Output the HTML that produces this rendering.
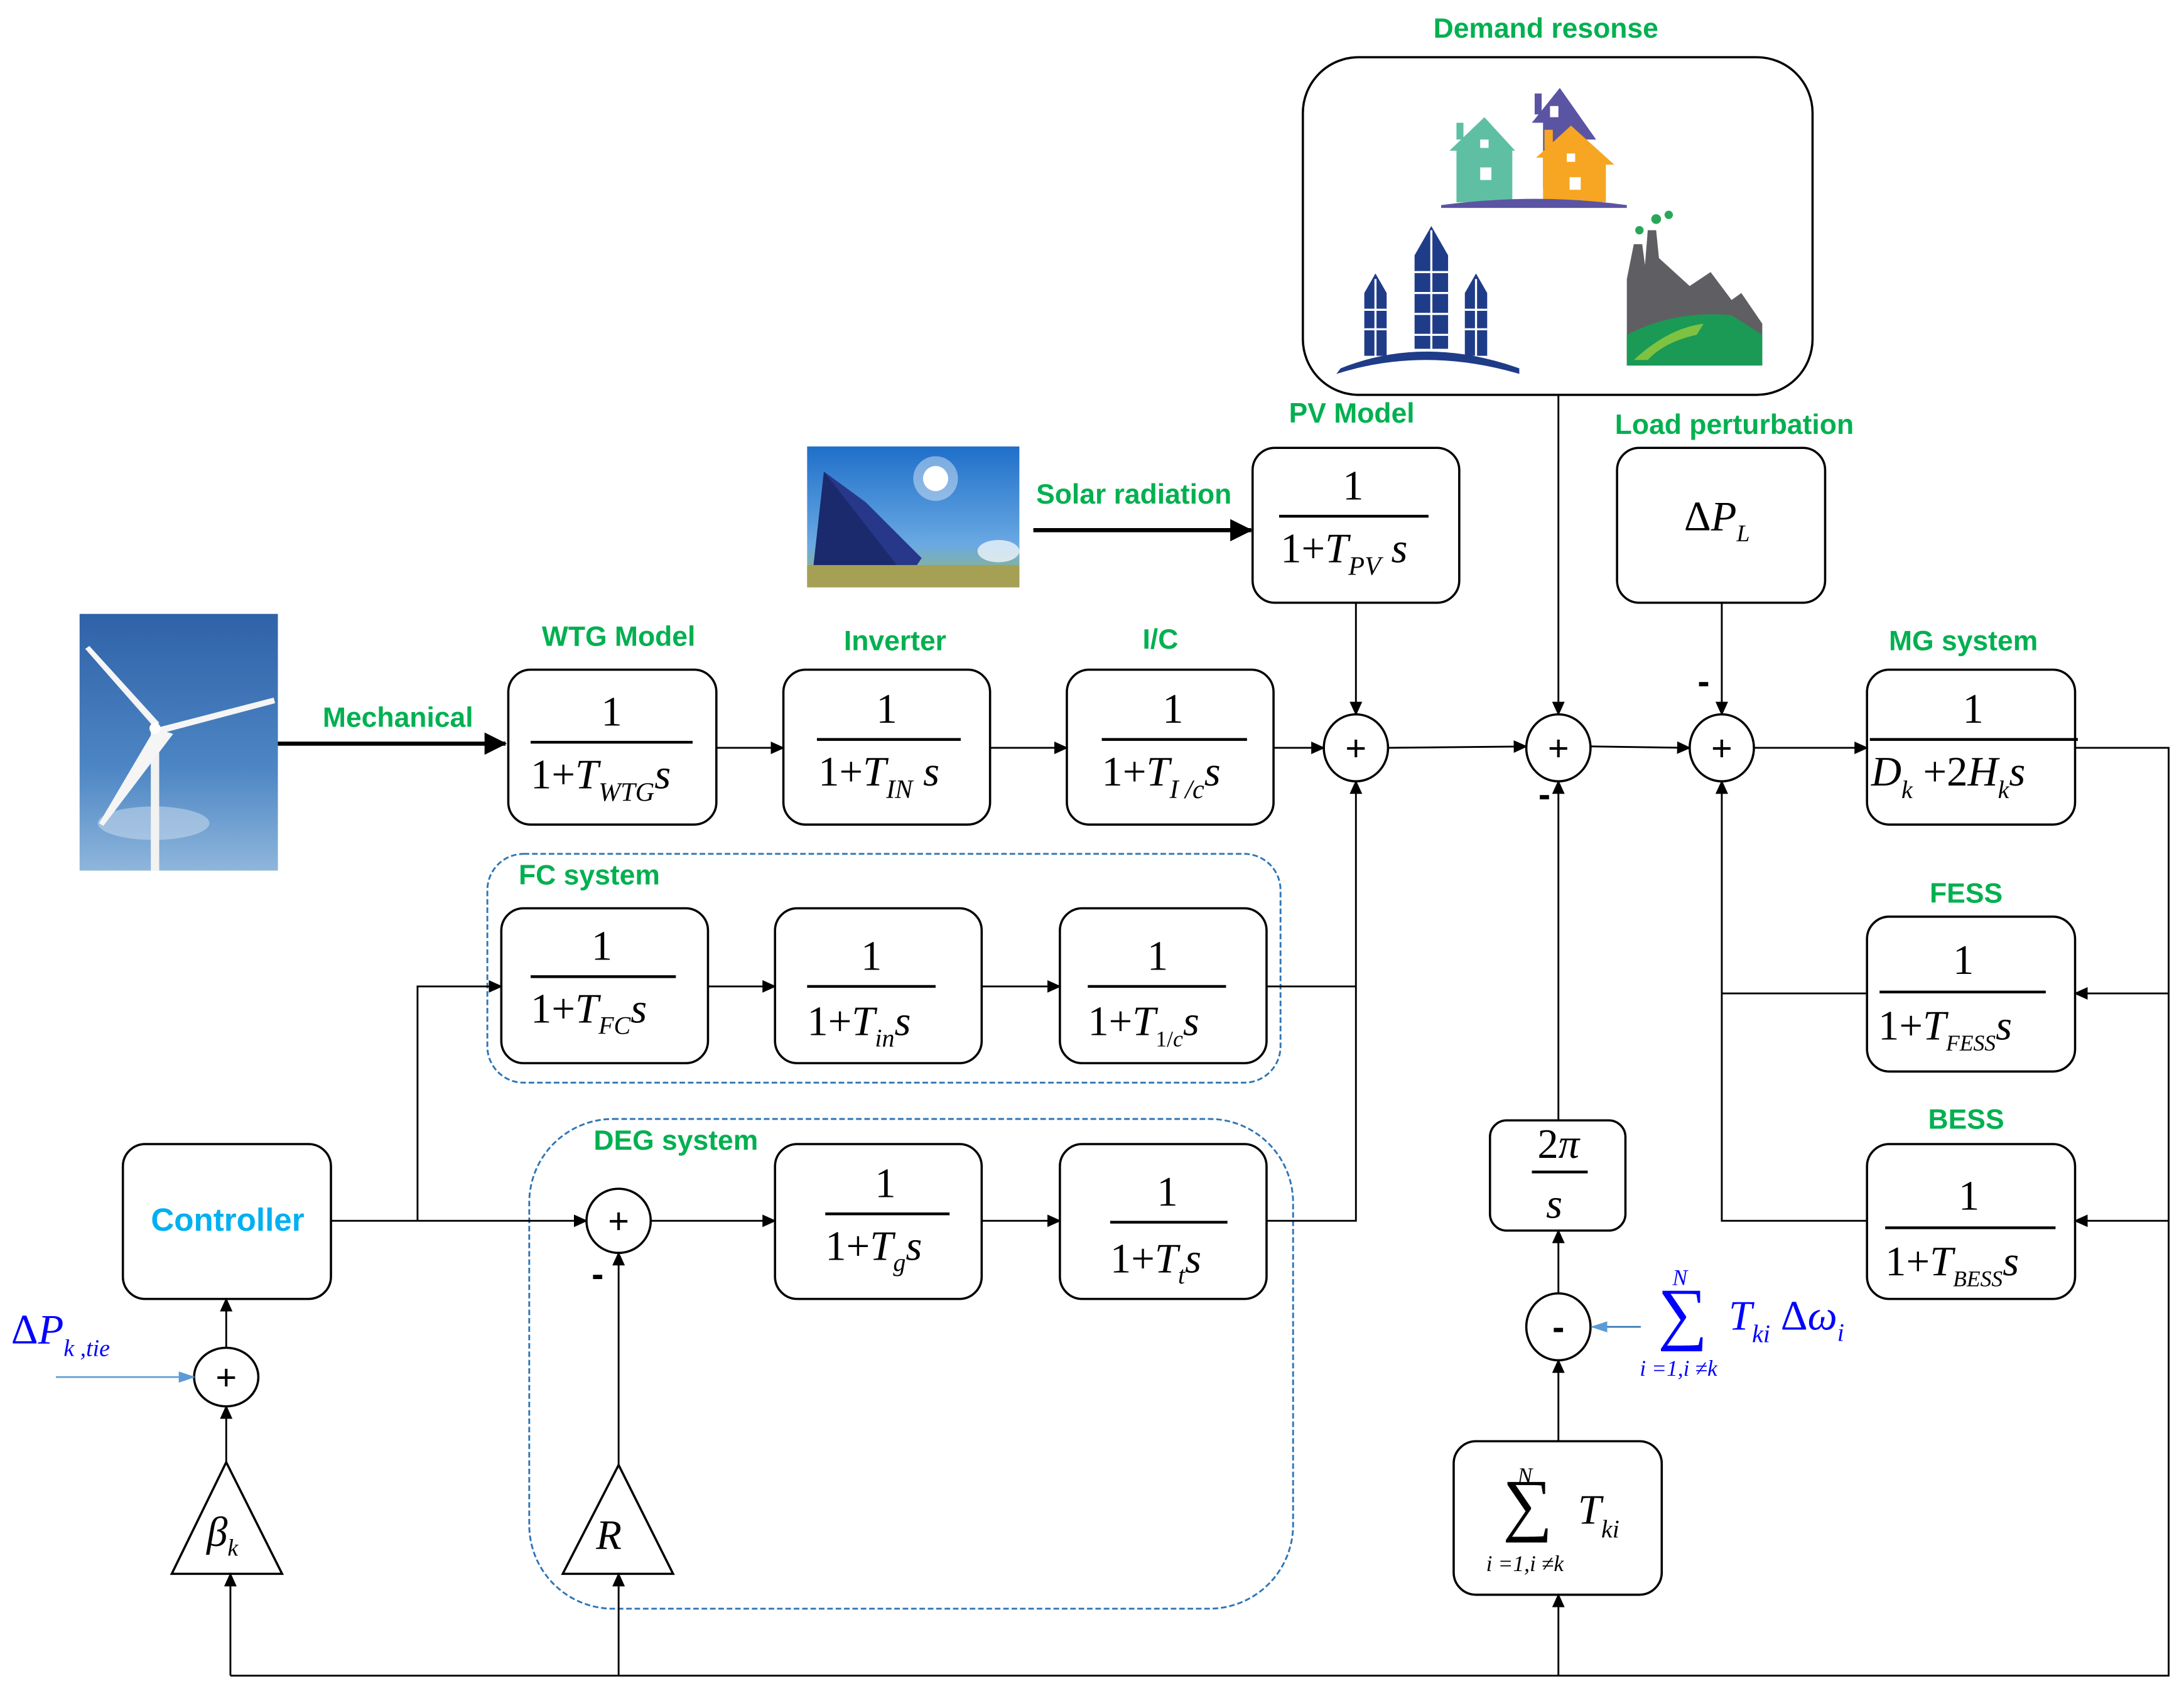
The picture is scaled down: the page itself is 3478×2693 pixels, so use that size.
<!DOCTYPE html>
<html><head><meta charset="utf-8"><style>
html,body{margin:0;padding:0;background:#fff;}
svg{display:block;}
.g{font-family:"Liberation Sans",sans-serif;font-weight:bold;fill:#00b050;font-size:20px;}
.m{font-family:"Liberation Serif",serif;font-size:30px;fill:#000;}
.i{font-style:italic;}
.b{fill:#fff;stroke:#000;stroke-width:1.6;}
.l{stroke:#000;stroke-width:1.3;fill:none;}
.fl{stroke:#000;stroke-width:2;}
</style></head><body>
<svg width="3478" height="2693" viewBox="0 0 1564 1212" preserveAspectRatio="none" xmlns="http://www.w3.org/2000/svg">
<defs>
<marker id="a" markerWidth="10" markerHeight="10" refX="9" refY="5" orient="auto" markerUnits="userSpaceOnUse"><path d="M0,0.5 L10,5 L0,9.5 Z" fill="#000"/></marker>
<marker id="A" markerWidth="16" markerHeight="16" refX="15" refY="8" orient="auto" markerUnits="userSpaceOnUse"><path d="M0,0 L16,8 L0,16 Z" fill="#000"/></marker>
<marker id="bl" markerWidth="12" markerHeight="10" refX="11" refY="5" orient="auto" markerUnits="userSpaceOnUse"><path d="M0,1 L12,5 L0,9 Z" fill="#5b9bd5"/></marker>
<linearGradient id="sky" x1="0" y1="0" x2="0" y2="1"><stop offset="0" stop-color="#2f62a8"/><stop offset="0.6" stop-color="#4d86c4"/><stop offset="1" stop-color="#8fb6dc"/></linearGradient>
<linearGradient id="sky2" x1="0" y1="0" x2="0" y2="1"><stop offset="0" stop-color="#1f6fc9"/><stop offset="0.7" stop-color="#6aa9e3"/><stop offset="1" stop-color="#9ab86a"/></linearGradient>
</defs>

<rect x="57" y="440" width="142" height="184" fill="url(#sky)"/>
<ellipse cx="110" cy="590" rx="40" ry="12" fill="#cfe0f0" opacity="0.5"/>
<rect x="108" y="522" width="6" height="102" fill="#f2f2f2"/>
<path d="M111,522 L61,465 L64,463 L114,518 Z" fill="#f5f5f5"/>
<path d="M111,522 L196,500 L197,504 L114,526 Z" fill="#f5f5f5"/>
<path d="M111,522 L124,526 L74,592 L71,590 Z" fill="#f5f5f5"/>
<circle cx="111" cy="522" r="4" fill="#fff"/>

<rect x="578" y="320" width="152" height="101" fill="url(#sky2)"/>
<circle cx="670" cy="343" r="9" fill="#fff"/>
<circle cx="670" cy="343" r="16" fill="#fff" opacity="0.4"/>
<path d="M590,338 L640,395 L650,415 L582,410 Z" fill="#1a2a6c"/>
<path d="M590,338 L620,360 L660,400 L650,415 Z" fill="#27388a"/>
<rect x="578" y="405" width="152" height="16" fill="#a6a055"/>
<ellipse cx="715" cy="395" rx="15" ry="8" fill="#fff" opacity="0.7"/>

<text class="g" x="285" y="521" text-anchor="middle">Mechanical</text>
<text class="g" x="443" y="463" text-anchor="middle">WTG Model</text>
<text class="g" x="641" y="466" text-anchor="middle">Inverter</text>
<text class="g" x="831" y="465" text-anchor="middle">I/C</text>
<text class="g" x="968" y="303" text-anchor="middle">PV Model</text>
<text class="g" x="812" y="361" text-anchor="middle">Solar radiation</text>
<text class="g" x="1107" y="27" text-anchor="middle">Demand resonse</text>
<text class="g" x="1242" y="311" text-anchor="middle">Load perturbation</text>
<text class="g" x="1406" y="466" text-anchor="middle">MG system</text>
<text class="g" x="1408" y="647" text-anchor="middle">FESS</text>
<text class="g" x="1408" y="809" text-anchor="middle">BESS</text>
<text class="g" x="422" y="634" text-anchor="middle">FC system</text>
<text class="g" x="484" y="824" text-anchor="middle">DEG system</text>

<rect x="349" y="612" width="568" height="164" rx="26" fill="none" stroke="#2e75b6" stroke-width="1.3" stroke-dasharray="4,2"/>
<rect x="379" y="802" width="547" height="351" rx="60" fill="none" stroke="#2e75b6" stroke-width="1.3" stroke-dasharray="4,2"/>

<rect x="933" y="41" width="365" height="242" rx="40" class="b"/>
<path d="M1105,135 L1105,88 L1097,88 L1117,63 L1143,100 L1135,100 L1135,135 Z" fill="#5b54a3"/>
<rect x="1099" y="67" width="5" height="15" fill="#5b54a3"/>
<path d="M1043,145 L1043,108 L1038,108 L1063,84 L1085,108 L1083,108 L1083,145 Z" fill="#5fbfa2"/>
<rect x="1043" y="88" width="5" height="12" fill="#5fbfa2"/>
<path d="M1105,145 L1105,113 L1100,113 L1125,90 L1156,118 L1150,118 L1150,145 Z" fill="#f6a623"/>
<rect x="1106" y="93" width="6" height="14" fill="#f6a623"/>
<rect x="1060" y="100" width="6" height="6" fill="#fff"/><rect x="1060" y="120" width="8" height="9" fill="#fff"/>
<rect x="1122" y="110" width="6" height="6" fill="#fff"/><rect x="1124" y="127" width="8" height="9" fill="#fff"/>
<rect x="1110" y="76" width="6" height="8" fill="#fff"/>
<path d="M1032,147 Q1100,138 1165,147 L1165,149 L1032,149 Z" fill="#5b54a3"/>
<g fill="#1f3c88">
<path d="M1013,250 L1013,183 L1025,162 L1037,183 L1037,250 Z"/>
<path d="M977,255 L977,210 L985,196 L993,210 L993,255 Z"/>
<path d="M1049,255 L1049,210 L1057,196 L1065,210 L1065,255 Z"/>
<path d="M957,268 Q1020,248 1088,268 L1088,264 Q1020,240 960,264 Z"/>
</g>
<g stroke="#fff" stroke-width="1.5">
<line x1="1025" y1="165" x2="1025" y2="250"/><line x1="985" y1="200" x2="985" y2="255"/><line x1="1057" y1="200" x2="1057" y2="255"/>
<line x1="1013" y1="195" x2="1037" y2="195"/><line x1="1013" y1="210" x2="1037" y2="210"/><line x1="1013" y1="225" x2="1037" y2="225"/><line x1="1013" y1="240" x2="1037" y2="240"/>
<line x1="977" y1="222" x2="993" y2="222"/><line x1="977" y1="236" x2="993" y2="236"/><line x1="1049" y1="222" x2="1065" y2="222"/><line x1="1049" y1="236" x2="1065" y2="236"/>
</g>
<path d="M1165,262 L1165,200 L1170,175 L1176,175 L1178,190 L1180,165 L1186,165 L1188,185 L1210,205 L1225,195 L1240,215 L1247,210 L1262,232 L1262,262 Z" fill="#5f5f63"/>
<path d="M1165,262 L1165,240 Q1200,222 1240,226 L1262,240 L1262,262 Z" fill="#1a9a55"/>
<path d="M1170,258 Q1195,235 1220,232 L1215,240 Q1192,245 1180,258 Z" fill="#7fc241"/>
<circle cx="1174" cy="165" r="3" fill="#2aa65a"/><circle cx="1186" cy="157" r="3.5" fill="#2aa65a"/><circle cx="1195" cy="154" r="3" fill="#2aa65a"/>

<g>
<rect x="364" y="480" width="149" height="111" rx="16" class="b"/>
<text class="m" x="438" y="520" text-anchor="middle">1</text>
<line x1="380" y1="532" x2="496" y2="532" class="fl"/>
<text class="m" x="380" y="565">1+<tspan class="i">T</tspan><tspan class="i" style="font-size:19px" dy="9">WTG</tspan><tspan class="i" dy="-9">s</tspan></text>
<rect x="561" y="480" width="148" height="111" rx="16" class="b"/>
<text class="m" x="635" y="518" text-anchor="middle">1</text>
<line x1="585" y1="530" x2="688" y2="530" class="fl"/>
<text class="m" x="586" y="563">1+<tspan class="i">T</tspan><tspan class="i" style="font-size:19px" dy="9">IN</tspan><tspan class="i" dy="-9"> s</tspan></text>
<rect x="764" y="480" width="148" height="111" rx="16" class="b"/>
<text class="m" x="840" y="518" text-anchor="middle">1</text>
<line x1="789" y1="530" x2="893" y2="530" class="fl"/>
<text class="m" x="789" y="563">1+<tspan class="i">T</tspan><tspan class="i" style="font-size:19px" dy="9">I /c</tspan><tspan class="i" dy="-9">s</tspan></text>
<rect x="897" y="321" width="148" height="111" rx="16" class="b"/>
<text class="m" x="969" y="358" text-anchor="middle">1</text>
<line x1="916" y1="370" x2="1023" y2="370" class="fl"/>
<text class="m" x="917" y="403">1+<tspan class="i">T</tspan><tspan class="i" style="font-size:19px" dy="9">PV</tspan><tspan class="i" dy="-9"> s</tspan></text>
<rect x="1158" y="321" width="149" height="111" rx="16" class="b"/>
<text class="m" x="1206" y="380">Δ<tspan class="i">P</tspan><tspan class="i" style="font-size:17px" dy="8">L</tspan></text>
<rect x="1337" y="480" width="149" height="111" rx="16" class="b"/>
<text class="m" x="1413" y="518" text-anchor="middle">1</text>
<line x1="1339" y1="530" x2="1488" y2="530" class="fl"/>
<text class="m" x="1340" y="563"><tspan class="i">D</tspan><tspan class="i" style="font-size:18px" dy="9">k</tspan><tspan dy="-9"> +2</tspan><tspan class="i">H</tspan><tspan class="i" style="font-size:18px" dy="9">k</tspan><tspan class="i" dy="-9">s</tspan></text>
<rect x="1337" y="657" width="149" height="111" rx="16" class="b"/>
<text class="m" x="1406" y="698" text-anchor="middle">1</text>
<line x1="1346" y1="711" x2="1465" y2="711" class="fl"/>
<text class="m" x="1345" y="745">1+<tspan class="i">T</tspan><tspan class="i" style="font-size:16px" dy="8">FESS</tspan><tspan class="i" dy="-8">s</tspan></text>
<rect x="1337" y="820" width="149" height="111" rx="16" class="b"/>
<text class="m" x="1410" y="867" text-anchor="middle">1</text>
<line x1="1350" y1="880" x2="1472" y2="880" class="fl"/>
<text class="m" x="1350" y="914">1+<tspan class="i">T</tspan><tspan class="i" style="font-size:16px" dy="8">BESS</tspan><tspan class="i" dy="-8">s</tspan></text>
<rect x="359" y="651" width="148" height="111" rx="16" class="b"/>
<text class="m" x="431" y="688" text-anchor="middle">1</text>
<line x1="380" y1="700" x2="484" y2="700" class="fl"/>
<text class="m" x="380" y="733">1+<tspan class="i">T</tspan><tspan class="i" style="font-size:18px" dy="8">FC</tspan><tspan class="i" dy="-8">s</tspan></text>
<rect x="555" y="651" width="148" height="111" rx="16" class="b"/>
<text class="m" x="624" y="695" text-anchor="middle">1</text>
<line x1="578" y1="707" x2="670" y2="707" class="fl"/>
<text class="m" x="578" y="742">1+<tspan class="i">T</tspan><tspan class="i" style="font-size:18px" dy="8">in</tspan><tspan class="i" dy="-8">s</tspan></text>
<rect x="759" y="651" width="148" height="111" rx="16" class="b"/>
<text class="m" x="829" y="695" text-anchor="middle">1</text>
<line x1="779" y1="707" x2="878" y2="707" class="fl"/>
<text class="m" x="779" y="742">1+<tspan class="i">T</tspan><tspan style="font-size:16px" dy="8">1/<tspan class="i">c</tspan></tspan><tspan class="i" dy="-8">s</tspan></text>
<rect x="555" y="820" width="148" height="111" rx="16" class="b"/>
<text class="m" x="634" y="858" text-anchor="middle">1</text>
<line x1="591" y1="870" x2="680" y2="870" class="fl"/>
<text class="m" x="591" y="903">1+<tspan class="i">T</tspan><tspan class="i" style="font-size:18px" dy="8">g</tspan><tspan class="i" dy="-8">s</tspan></text>
<rect x="759" y="820" width="148" height="111" rx="16" class="b"/>
<text class="m" x="836" y="864" text-anchor="middle">1</text>
<line x1="795" y1="876" x2="879" y2="876" class="fl"/>
<text class="m" x="795" y="912">1+<tspan class="i">T</tspan><tspan class="i" style="font-size:18px" dy="8">t</tspan><tspan class="i" dy="-8">s</tspan></text>
<rect x="88" y="820" width="149" height="111" rx="16" class="b"/>
<text x="163" y="882" text-anchor="middle" font-family="Liberation Sans,sans-serif" font-weight="bold" font-size="23" fill="#00b0f0">Controller</text>
<rect x="1067" y="803" width="97" height="79" rx="12" class="b"/>
<text class="m" x="1116" y="830" text-anchor="middle">2<tspan class="i">π</tspan></text>
<line x1="1097" y1="840" x2="1137" y2="840" class="fl"/>
<text class="m i" x="1113" y="873" text-anchor="middle">s</text>
<rect x="1041" y="1033" width="149" height="110" rx="16" class="b"/>
<text class="m i" x="1092" y="1063" style="font-size:16px" text-anchor="middle">N</text>
<text class="m" x="1094" y="1095" style="font-size:50px" text-anchor="middle">∑</text>
<text class="m i" x="1130" y="1092">T<tspan style="font-size:18px" dy="10">ki</tspan></text>
<text class="m i" x="1092" y="1126" style="font-size:16px" text-anchor="middle">i =1,i ≠k</text>
</g>

<g fill="#0000ff" font-family="Liberation Serif,serif">
<text x="1203" y="921" font-size="16" font-style="italic" text-anchor="middle">N</text>
<text x="1205" y="958" font-size="50" text-anchor="middle">∑</text>
<text x="1238" y="953" font-size="30" font-style="italic">T<tspan font-size="18" dy="9">ki</tspan><tspan dy="-9" font-style="normal"> Δ</tspan>ω<tspan font-size="18" dy="8">i</tspan></text>
<text x="1202" y="986" font-size="16" font-style="italic" text-anchor="middle">i =1,i ≠k</text>
<text x="8" y="963" font-size="30">Δ<tspan font-style="italic">P</tspan><tspan font-style="italic" font-size="17" dy="9">k ,tie</tspan></text>
</g>

<path d="M162,1048 L123,1128 L202,1128 Z" class="b"/>
<text class="m i" x="148" y="1108">β<tspan style="font-size:17px" dy="7">k</tspan></text>
<path d="M443,1050 L403,1128 L482,1128 Z" class="b"/>
<text class="m i" x="436" y="1110" text-anchor="middle">R</text>

<g font-family="Liberation Sans,sans-serif" font-size="26" text-anchor="middle">
<ellipse cx="971" cy="536" rx="23" ry="24" class="b"/><text x="971" y="545">+</text>
<ellipse cx="1116" cy="536" rx="23" ry="24" class="b"/><text x="1116" y="545">+</text>
<ellipse cx="1233" cy="536" rx="23" ry="24" class="b"/><text x="1233" y="545">+</text>
<ellipse cx="443" cy="875" rx="23" ry="23" class="b"/><text x="443" y="884">+</text>
<ellipse cx="162" cy="987" rx="23" ry="21" class="b"/><text x="162" y="996">+</text>
<ellipse cx="1116" cy="951" rx="23" ry="24" class="b"/><text x="1116" y="960" font-weight="bold">-</text>
<text x="1220" y="497" font-weight="bold">-</text>
<text x="1106" y="578" font-weight="bold">-</text>
<text x="428" y="922" font-weight="bold">-</text>
</g>

<line x1="199" y1="533" x2="362" y2="533" stroke="#000" stroke-width="3" marker-end="url(#A)"/>
<line x1="740" y1="380" x2="896" y2="380" stroke="#000" stroke-width="3" marker-end="url(#A)"/>
<line x1="513" y1="536" x2="561" y2="536" class="l" marker-end="url(#a)"/>
<line x1="709" y1="536" x2="764" y2="536" class="l" marker-end="url(#a)"/>
<line x1="912" y1="536" x2="948" y2="536" class="l" marker-end="url(#a)"/>
<line x1="971" y1="432" x2="971" y2="512" class="l" marker-end="url(#a)"/>
<line x1="994" y1="536" x2="1093" y2="535" class="l" marker-end="url(#a)"/>
<line x1="1116" y1="283" x2="1116" y2="512" class="l" marker-end="url(#a)"/>
<line x1="1139" y1="535" x2="1210" y2="536" class="l" marker-end="url(#a)"/>
<line x1="1233" y1="432" x2="1233" y2="512" class="l" marker-end="url(#a)"/>
<line x1="1256" y1="536" x2="1337" y2="536" class="l" marker-end="url(#a)"/>
<polyline points="1486,536 1553,536 1553,1201 165,1201" class="l"/>
<line x1="1553" y1="712" x2="1486" y2="712" class="l" marker-end="url(#a)"/>
<line x1="1553" y1="875" x2="1486" y2="875" class="l" marker-end="url(#a)"/>
<polyline points="1337,712 1233,712" class="l"/>
<polyline points="1337,875 1233,875 1233,560" class="l" marker-end="url(#a)"/>
<line x1="507" y1="707" x2="555" y2="707" class="l" marker-end="url(#a)"/>
<line x1="703" y1="707" x2="759" y2="707" class="l" marker-end="url(#a)"/>
<polyline points="907,707 971,707" class="l"/>
<polyline points="907,875 971,875 971,560" class="l" marker-end="url(#a)"/>
<line x1="466" y1="875" x2="555" y2="875" class="l" marker-end="url(#a)"/>
<line x1="703" y1="875" x2="759" y2="875" class="l" marker-end="url(#a)"/>
<line x1="237" y1="875" x2="420" y2="875" class="l" marker-end="url(#a)"/>
<polyline points="299,875 299,707 359,707" class="l" marker-end="url(#a)"/>
<line x1="443" y1="1050" x2="443" y2="898" class="l" marker-end="url(#a)"/>
<line x1="443" y1="1201" x2="443" y2="1128" class="l" marker-end="url(#a)"/>
<line x1="165" y1="1201" x2="165" y2="1128" class="l" marker-end="url(#a)"/>
<line x1="162" y1="1048" x2="162" y2="1008" class="l" marker-end="url(#a)"/>
<line x1="162" y1="966" x2="162" y2="931" class="l" marker-end="url(#a)"/>
<line x1="40" y1="987" x2="139" y2="987" stroke="#5b9bd5" stroke-width="1.2" marker-end="url(#bl)"/>
<line x1="1116" y1="803" x2="1116" y2="560" class="l" marker-end="url(#a)"/>
<line x1="1116" y1="927" x2="1116" y2="882" class="l" marker-end="url(#a)"/>
<line x1="1116" y1="1033" x2="1116" y2="975" class="l" marker-end="url(#a)"/>
<line x1="1116" y1="1201" x2="1116" y2="1143" class="l" marker-end="url(#a)"/>
<line x1="1175" y1="951" x2="1140" y2="951" stroke="#2e75b6" stroke-width="1.2" marker-end="url(#bl)"/>
</svg>
</body></html>
